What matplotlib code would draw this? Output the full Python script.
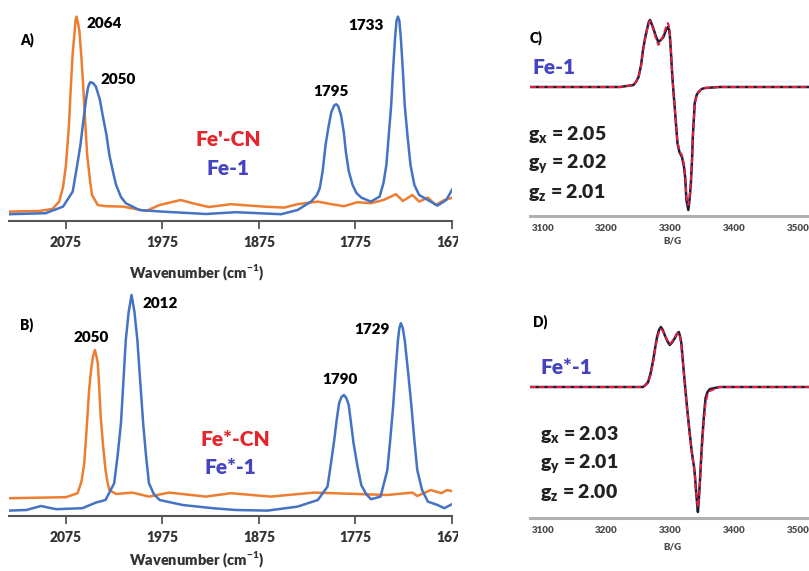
import matplotlib
matplotlib.use("Agg")
import matplotlib.pyplot as plt
from matplotlib.transforms import Bbox, TransformedBbox

plt.rcParams['font.family'] = ['Lato', 'DejaVu Sans']
plt.rcParams['mathtext.fontset'] = 'custom'
plt.rcParams['mathtext.rm'] = 'Lato'
plt.rcParams['mathtext.bf'] = 'Lato:bold'

# ---- IR data, panel A (Fe'-CN orange, Fe-1 blue) ----
a_cn_wn = [2134, 2103, 2089, 2082, 2078, 2075, 2072, 2070, 2068, 2066, 2065, 2064, 2062.5,
           2061, 2059, 2057, 2055, 2053, 2050, 2048, 2042, 2034, 2016, 2003, 1992, 1978,
           1956, 1944, 1927, 1904, 1870, 1849, 1835, 1814, 1800, 1787, 1773, 1759, 1746,
           1733, 1726, 1716, 1709, 1700, 1692, 1683, 1674]
a_cn_abs = [0.047, 0.050, 0.060, 0.097, 0.170, 0.280, 0.470, 0.665, 0.840, 0.947, 1.005, 1.022, 0.990,
            0.947, 0.820, 0.665, 0.490, 0.330, 0.200, 0.130, 0.080, 0.074, 0.072, 0.060, 0.050, 0.080,
            0.105, 0.089, 0.070, 0.084, 0.072, 0.067, 0.084, 0.097, 0.084, 0.074, 0.094, 0.089, 0.105,
            0.134, 0.100, 0.130, 0.097, 0.117, 0.080, 0.105, 0.117]
a_fe_wn = [2134, 2096, 2078, 2068, 2064, 2060, 2057, 2054, 2052, 2050, 2047, 2044, 2040,
           2037, 2033, 2030, 2026, 2023, 2018, 2013, 1999, 1975, 1930, 1899, 1852, 1835,
           1821, 1815, 1812, 1809, 1806, 1803, 1800, 1797, 1795, 1793, 1790, 1787, 1785,
           1782, 1778, 1774, 1769, 1759, 1750, 1746, 1743, 1740.5, 1738, 1736, 1734, 1732.5,
           1731, 1729.5, 1728, 1726, 1724, 1721, 1718, 1714, 1709, 1700, 1690, 1681, 1674]
a_fe_abs = [0.034, 0.039, 0.072, 0.147, 0.260, 0.380, 0.500, 0.614, 0.670, 0.694, 0.690, 0.672, 0.610,
            0.530, 0.430, 0.330, 0.240, 0.180, 0.120, 0.089, 0.055, 0.047, 0.035, 0.044, 0.034, 0.055,
            0.097, 0.130, 0.164, 0.250, 0.380, 0.470, 0.545, 0.578, 0.584, 0.575, 0.530, 0.440, 0.347,
            0.250, 0.180, 0.140, 0.117, 0.097, 0.122, 0.190, 0.280, 0.430, 0.580, 0.760, 0.914, 1.000,
            1.022, 1.000, 0.914, 0.760, 0.580, 0.420, 0.280, 0.180, 0.130, 0.105, 0.077, 0.105, 0.164]

# ---- IR data, panel B (Fe*-CN orange, Fe*-1 blue) ----
b_cn_wn = [2134, 2075, 2063, 2059, 2056, 2053.5, 2051, 2049, 2047, 2045, 2043.5, 2042, 2040.5,
           2039, 2036.5, 2034, 2032, 2030, 2023, 2006, 1989, 1968, 1930, 1904, 1863, 1818,
           1773, 1742, 1716, 1711, 1697, 1686, 1680, 1673]
b_cn_abs = [0.089, 0.094, 0.114, 0.170, 0.264, 0.440, 0.630, 0.730, 0.797, 0.830, 0.800, 0.764, 0.640,
            0.497, 0.350, 0.230, 0.170, 0.130, 0.110, 0.117, 0.097, 0.117, 0.097, 0.114, 0.097, 0.117,
            0.110, 0.105, 0.117, 0.100, 0.130, 0.114, 0.130, 0.122]
b_fe_wn = [2134, 2116, 2101, 2085, 2058, 2044, 2034, 2025, 2021.5, 2018, 2015.5, 2013, 2010,
           2007, 2004, 2001, 1998, 1995, 1992, 1989, 1984, 1978, 1954, 1923, 1899, 1866,
           1835, 1814, 1804, 1800.5, 1797, 1794.5, 1792, 1789.5, 1787, 1784.5, 1782, 1779.5, 1777,
           1773, 1769, 1764, 1759, 1749, 1742, 1739, 1736, 1733.5, 1731, 1729.5, 1728, 1726,
           1724, 1720.5, 1717, 1714, 1711, 1706, 1700, 1690, 1683, 1673]
b_fe_abs = [0.027, 0.030, 0.050, 0.034, 0.039, 0.067, 0.080, 0.164, 0.300, 0.464, 0.670, 0.880, 1.020,
            1.105, 1.020, 0.880, 0.670, 0.464, 0.300, 0.164, 0.110, 0.080, 0.055, 0.039, 0.030, 0.027,
            0.047, 0.080, 0.147, 0.260, 0.380, 0.480, 0.564, 0.595, 0.605, 0.590, 0.555, 0.460, 0.364,
            0.250, 0.155, 0.110, 0.084, 0.097, 0.230, 0.380, 0.547, 0.720, 0.880, 0.940, 0.964, 0.940,
            0.880, 0.720, 0.547, 0.380, 0.230, 0.130, 0.072, 0.055, 0.039, 0.064]

# ---- EPR data, panel C (Fe-1): experiment and simulation ----
c_field = [3080, 3221, 3242, 3246, 3250, 3254, 3257, 3260, 3263, 3266, 3268, 3270, 3273,
           3277, 3281, 3285, 3289, 3293, 3296, 3298, 3299, 3301, 3303, 3305, 3307, 3309,
           3311, 3314, 3318, 3321, 3323, 3325, 3328, 3330, 3332, 3334, 3335, 3337, 3338,
           3341, 3344, 3349, 3354, 3377, 3517]
c_exp = [0.0, 0.0, 0.02, 0.05, 0.10, 0.22, 0.37, 0.48, 0.57, 0.65, 0.67, 0.64, 0.59,
         0.51, 0.45, 0.47, 0.50, 0.57, 0.60, 0.57, 0.52, 0.32, 0.10, -0.07, -0.23, -0.40,
         -0.56, -0.65, -0.70, -0.79, -0.90, -1.13, -1.23, -1.12, -0.96, -0.70, -0.50, -0.28, -0.16,
         -0.08, -0.05, -0.02, -0.01, 0.0, 0.0]
c_sim = [0.0, 0.0, 0.02, 0.05, 0.10, 0.21, 0.36, 0.47, 0.56, 0.64, 0.66, 0.63, 0.58,
         0.49, 0.42, 0.46, 0.52, 0.60, 0.64, 0.60, 0.55, 0.33, 0.10, -0.08, -0.24, -0.40,
         -0.55, -0.64, -0.68, -0.77, -0.88, -1.10, -1.18, -1.10, -0.94, -0.70, -0.50, -0.29, -0.17,
         -0.09, -0.05, -0.02, -0.01, 0.0, 0.0]

# ---- EPR data, panel D (Fe*-1) ----
d_field = [3080, 3221, 3257, 3261, 3265, 3269, 3273, 3276, 3279, 3282, 3285, 3288, 3291,
           3295, 3299, 3303, 3307, 3310, 3313, 3315, 3317, 3320, 3323, 3325.5, 3328, 3330.5,
           3333, 3335, 3337, 3338.5, 3340, 3341.5, 3343, 3344.5, 3346, 3348, 3350, 3352.5,
           3355, 3358, 3362, 3377, 3517]
d_exp = [0.0, 0.0, 0.0, 0.02, 0.05, 0.14, 0.27, 0.39, 0.50, 0.57, 0.60, 0.57, 0.52,
         0.46, 0.42, 0.45, 0.49, 0.53, 0.55, 0.51, 0.44, 0.22, 0.0, -0.17, -0.33, -0.48,
         -0.63, -0.72, -0.80, -0.90, -1.03, -1.15, -1.25, -1.12, -0.96, -0.72, -0.50, -0.28,
         -0.11, -0.05, -0.02, 0.0, 0.0]
d_sim = [0.0, 0.0, 0.0, 0.02, 0.04, 0.12, 0.25, 0.37, 0.48, 0.55, 0.58, 0.56, 0.52,
         0.47, 0.43, 0.46, 0.50, 0.53, 0.54, 0.50, 0.42, 0.20, -0.02, -0.19, -0.35, -0.50,
         -0.64, -0.73, -0.82, -0.92, -1.05, -1.14, -1.20, -1.12, -0.98, -0.76, -0.55, -0.33,
         -0.16, -0.08, -0.04, 0.0, 0.0]

ir_ticks = [2075, 1975, 1875, 1775, 1675]
epr_ticks = [3100, 3200, 3300, 3400, 3500]

ORANGE = '#ed7d31'
BLUE = '#4472c4'
RED_TXT = '#e3262e'
BLUE_TXT = '#4544bf'

W, H = 809, 571
fig = plt.figure(figsize=(W / 100, H / 100), dpi=100)


def box(x0, y0, x1, y1):
    # pixel box (top-left origin) -> figure fraction rect
    return [x0 / W, 1 - y1 / H, (x1 - x0) / W, (y1 - y0) / H]


def put(x, y, s, **kw):
    kw.setdefault('ha', 'center')
    kw.setdefault('va', 'center')
    kw.setdefault('fontweight', 'heavy')
    return fig.text(x / W, 1 - y / H, s, **kw)


clip = TransformedBbox(Bbox([[0, 0], [458 / W, 1]]), fig.transFigure)


def ir_panel(rect, ymax):
    ax = fig.add_axes(rect)
    ax.set_xlim(2134, 1675)
    ax.set_ylim(0, ymax)
    for s in ['top', 'left', 'right']:
        ax.spines[s].set_visible(False)
    ax.spines['bottom'].set_color('#555555')
    ax.spines['bottom'].set_linewidth(1.5)
    ax.set_yticks([])
    ax.set_xticks(ir_ticks)
    ax.tick_params(axis='x', direction='out', length=5.5, width=1.3,
                   color='#555555', pad=5, labelsize=10, labelcolor='#333333')
    for lab in ax.get_xticklabels():
        lab.set_fontweight('heavy')
        lab.set_clip_box(clip)
        lab.set_clip_on(True)
    ax.patch.set_visible(False)
    return ax


def epr_panel(rect, ylo):
    ax = fig.add_axes(rect)
    ax.set_xlim(3080, 3517)
    ax.set_ylim(ylo, 0.77)
    for s in ['top', 'left', 'right']:
        ax.spines[s].set_visible(False)
    ax.spines['bottom'].set_color('#b0b0b0')
    ax.spines['bottom'].set_linewidth(2.2)
    ax.set_yticks([])
    ax.set_xticks(epr_ticks)
    ax.tick_params(axis='x', length=0, pad=6, labelsize=7, labelcolor='#4a4a4a')
    for lab in ax.get_xticklabels():
        lab.set_fontweight('heavy')
    ax.patch.set_visible(False)
    return ax


# panel A
ax = ir_panel(box(9, 10, 452, 221), 1.055)
ax.plot(a_cn_wn, a_cn_abs, color=ORANGE, lw=1.8, solid_joinstyle='round')
ax.plot(a_fe_wn, a_fe_abs, color=BLUE, lw=1.8, solid_joinstyle='round')
put(27, 40, 'A)', fontsize=10)
put(104, 24, '2064', fontsize=11)
put(118, 79, '2050', fontsize=11)
put(331, 91, '1795', fontsize=11)
put(366, 25, '1733', fontsize=11)
put(228, 140, "Fe'-CN", fontsize=15, color=RED_TXT)
put(228, 168, 'Fe-1', fontsize=15, color=BLUE_TXT)
put(197, 273, r'Wavenumber (cm$^{\mathregular{-1}}$)', fontsize=10.5, color='#333333')

# panel B
ax = ir_panel(box(9, 286, 452, 516), 1.15)
ax.plot(b_cn_wn, b_cn_abs, color=ORANGE, lw=1.8, solid_joinstyle='round')
ax.plot(b_fe_wn, b_fe_abs, color=BLUE, lw=1.8, solid_joinstyle='round')
put(27, 325, 'B)', fontsize=10)
put(91, 338, '2050', fontsize=11)
put(160, 304, '2012', fontsize=11)
put(340, 379, '1790', fontsize=11)
put(372, 330, '1729', fontsize=11)
put(235, 440, 'Fe*-CN', fontsize=15, color=RED_TXT)
put(230, 468, 'Fe*-1', fontsize=15, color=BLUE_TXT)
put(197, 560, r'Wavenumber (cm$^{\mathregular{-1}}$)', fontsize=10.5, color='#333333')

# panel C
ax = epr_panel(box(530, 10, 809, 216), -1.29)
ax.plot(c_field, c_exp, color='#1b1b3a', lw=1.8, solid_joinstyle='round')
ax.plot(c_field, c_sim, color='#e8203a', lw=1.4, ls=(0, (3, 1.5)))
put(530, 38, 'C)', fontsize=10, ha='left')
put(532, 67, 'Fe-1', fontsize=15, color=BLUE_TXT, ha='left')
for i, g in enumerate([r'g$_\mathregular{x}$ = 2.05', r'g$_\mathregular{y}$ = 2.02',
                       r'g$_\mathregular{z}$ = 2.01']):
    put(528, 135 + 29 * i, g, fontsize=14, color='#222222', ha='left')
put(672, 241, 'B/G', fontsize=7, color='#4a4a4a')

# panel D
ax = epr_panel(box(530, 310, 809, 518), -1.31)
ax.plot(d_field, d_exp, color='#1b1b3a', lw=1.8, solid_joinstyle='round')
ax.plot(d_field, d_sim, color='#e8203a', lw=1.4, ls=(0, (3, 1.5)))
put(533, 322, 'D)', fontsize=10, ha='left')
put(540, 368, 'Fe*-1', fontsize=15, color=BLUE_TXT, ha='left')
for i, g in enumerate([r'g$_\mathregular{x}$ = 2.03', r'g$_\mathregular{y}$ = 2.01',
                       r'g$_\mathregular{z}$ = 2.00']):
    put(540, 435 + 29 * i, g, fontsize=14, color='#222222', ha='left')
put(672, 547, 'B/G', fontsize=7, color='#4a4a4a')

fig.savefig('out.png', dpi=100)
